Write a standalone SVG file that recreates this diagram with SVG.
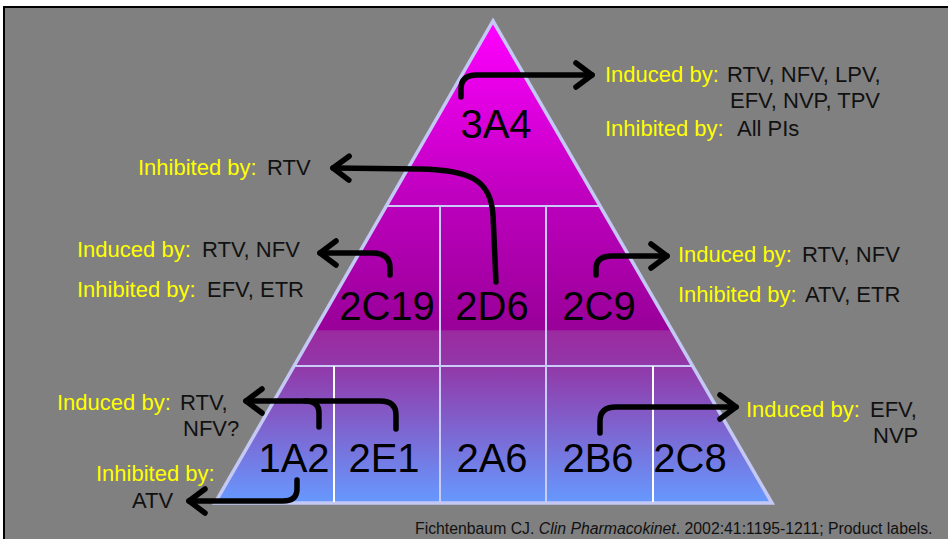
<svg xmlns="http://www.w3.org/2000/svg" width="948" height="539" viewBox="0 0 948 539">
<style>
.lbl{font-family:"Liberation Sans",Arial,sans-serif;font-size:22px;fill:#111}
.y{fill:#ffff00}
.big{font-family:"Liberation Sans",Arial,sans-serif;font-size:40px;fill:#000;text-anchor:middle}
.div{stroke:#c8ccf6;stroke-width:2;fill:none}
.divw{stroke:#ffffff;stroke-width:2;fill:none}
.arr{fill:none;stroke:#000;stroke-width:5.5;stroke-linecap:round;stroke-linejoin:round}
.foot{font-family:"Liberation Sans",Arial,sans-serif;font-size:15.8px;fill:#111}
</style>
<defs>
<linearGradient id="g" gradientUnits="userSpaceOnUse" x1="0" y1="21" x2="0" y2="503">
<stop offset="0" stop-color="#ff00ff"/>
<stop offset="0.384" stop-color="#bb00bb"/>
<stop offset="0.640" stop-color="#990099"/>
<stop offset="0.643" stop-color="#9b2aa0"/>
<stop offset="0.716" stop-color="#9238a8"/>
<stop offset="1" stop-color="#6699ff"/>
</linearGradient>
<marker id="ah" markerUnits="userSpaceOnUse" viewBox="-25 -20 40 40" markerWidth="40" markerHeight="40" refX="0" refY="0" orient="auto" overflow="visible">
<path d="M-16,-12 L0,0 L-16,12" fill="none" stroke="#000" stroke-width="5.5" stroke-linecap="round" stroke-linejoin="round"/>
</marker>
</defs>
<rect x="0" y="0" width="948" height="539" fill="#ffffff"/>
<rect x="4" y="7" width="950" height="540" fill="#808080" stroke="#000" stroke-width="2"/>

<g id="pyramid">
<polygon points="493,21 772,503 215,503" fill="url(#g)" stroke="#c4c8f4" stroke-width="3.5"/>
<line class="div" x1="386.3" y1="206" x2="600.1" y2="206"/>
<line class="div" x1="294" y1="366" x2="692.7" y2="366"/>
<line class="div" x1="440" y1="206" x2="440" y2="366"/>
<line class="div" x1="546" y1="206" x2="546" y2="366"/>
<line class="divw" x1="334" y1="366" x2="334" y2="502"/>
<line class="div" x1="440" y1="366" x2="440" y2="502"/>
<line class="div" x1="546" y1="366" x2="546" y2="502"/>
<line class="divw" x1="653" y1="366" x2="653" y2="502"/>
</g>

<g id="n3A4"><text class="big" x="496" y="138">3A4</text></g>
<g id="n2C19"><text class="big" x="387" y="320">2C19</text></g>
<g id="n2D6"><text class="big" x="492" y="320">2D6</text></g>
<g id="n2C9"><text class="big" x="599" y="320">2C9</text></g>
<g id="n1A2"><text class="big" x="294" y="472">1A2</text></g>
<g id="n2E1"><text class="big" x="384" y="472">2E1</text></g>
<g id="n2A6"><text class="big" x="492" y="472">2A6</text></g>
<g id="n2B6"><text class="big" x="598" y="472">2B6</text></g>
<g id="n2C8"><text class="big" x="690" y="472">2C8</text></g>

<g id="lbl3A4">
<text class="lbl" y="82"><tspan class="y" x="605">Induced by:</tspan><tspan x="727">RTV, NFV, LPV,</tspan></text>
<text class="lbl" x="730" y="108">EFV, NVP, TPV</text>
<text class="lbl" y="136"><tspan class="y" x="605">Inhibited by:</tspan><tspan x="737">All PIs</tspan></text>
</g>
<g id="lbl2D6">
<text class="lbl" y="175"><tspan class="y" x="138">Inhibited by:</tspan><tspan x="267">RTV</tspan></text>
</g>
<g id="lbl2C19">
<text class="lbl" y="257"><tspan class="y" x="77">Induced by:</tspan><tspan x="202">RTV, NFV</tspan></text>
<text class="lbl" y="297"><tspan class="y" x="77">Inhibited by:</tspan><tspan x="207">EFV, ETR</tspan></text>
</g>
<g id="lbl2C9">
<text class="lbl" y="262"><tspan class="y" x="678">Induced by:</tspan><tspan x="802">RTV, NFV</tspan></text>
<text class="lbl" y="302"><tspan class="y" x="678">Inhibited by:</tspan><tspan x="805">ATV, ETR</tspan></text>
</g>
<g id="lbl1A2">
<text class="lbl" y="410"><tspan class="y" x="57">Induced by:</tspan><tspan x="180">RTV,</tspan></text>
<text class="lbl" x="183" y="436">NFV?</text>
<text class="lbl y" x="96" y="481">Inhibited by:</text>
<text class="lbl" x="132" y="508">ATV</text>
</g>
<g id="lbl2B6">
<text class="lbl" y="417"><tspan class="y" x="746">Induced by:</tspan><tspan x="870">EFV,</tspan></text>
<text class="lbl" x="873" y="443">NVP</text>
</g>

<g id="connectors">
<path class="arr" marker-end="url(#ah)" d="M461,97 L461,89 Q461,75 477,75 L592,75"/>
<path class="arr" marker-end="url(#ah)" d="M496,282 L493,215 C491,180 470,170 420,169 L333,168"/>
<path class="arr" marker-end="url(#ah)" d="M390,275 L390,268 Q390,253 372,253 L320,253"/>
<path class="arr" marker-end="url(#ah)" d="M596,275 L596,269 Q596,256 612,256 L667,256"/>
<path class="arr" marker-end="url(#ah)" d="M396,429 L396,415 Q396,401 380,401 L246,401"/>
<path class="arr" d="M319,427 L319,413 Q319,401 305,401"/>
<path class="arr" marker-end="url(#ah)" d="M297,480 L297,489 Q297,501 283,501 L189,501"/>
<path class="arr" marker-end="url(#ah)" d="M600,433 L600,421 Q600,407 616,407 L736,407"/>
</g>

<text class="foot" x="415" y="534">Fichtenbaum CJ.  <tspan font-style="italic">Clin Pharmacokinet</tspan>. 2002:41:1195-1211; Product labels.</text>
</svg>
